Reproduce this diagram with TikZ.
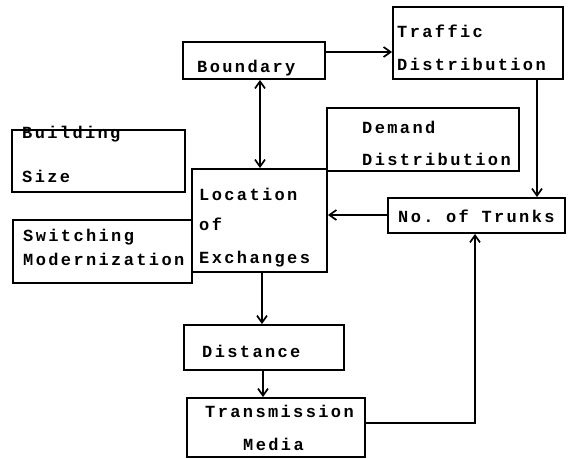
\documentclass[tikz,border=0pt]{standalone}
\usepackage{fontspec}
\setmonofont[LetterSpace=14]{Liberation Mono}
\usetikzlibrary{arrows.meta}
\begin{document}
\begin{tikzpicture}[x=1pt,y=-1pt,
  box/.style={draw,line width=1.9pt,rectangle,inner sep=0pt,anchor=center},
  txt/.style={anchor=base west,inner sep=0pt,font=\ttfamily\bfseries\fontsize{17}{17}\selectfont},
  tip/.tip={Straight Barb[length=7pt,width=10pt,line width=1.7pt]},
  arr/.style={line width=1.9pt,-tip},
  arrb/.style={line width=1.9pt,tip-tip}]
\useasboundingbox[fill=white] (0,0) rectangle (569,458);
% boxes
\node[box,minimum width=170pt,minimum height=72pt] (traffic) at (478,43) {};
\node[box,minimum width=142pt,minimum height=37pt] (bnd) at (254,60.5) {};
\node[box,minimum width=192pt,minimum height=63pt] (demand) at (423,139.5) {};
\node[box,minimum width=173pt,minimum height=62pt] (building) at (98.5,161) {};
\node[box,minimum width=135pt,minimum height=103pt] (loc) at (259.5,220.5) {};
\node[box,minimum width=179pt,minimum height=63pt] (switch) at (102.5,251.5) {};
\node[box,minimum width=177pt,minimum height=35pt] (trunks) at (476.5,215.5) {};
\node[box,minimum width=160pt,minimum height=45pt] (dist) at (264,347.5) {};
\node[box,minimum width=178pt,minimum height=59pt] (trans) at (276,427.5) {};
% texts
\node[txt] (tTr1) at (397,37) {Traffic};
\node[txt] (tTr2) at (397,70) {Distribution};
\node[txt] (tBnd) at (197,72) {Boundary};
\node[txt] (tDe1) at (362,133) {Demand};
\node[txt] (tDe2) at (362,165) {Distribution};
\node[txt] (tBu1) at (22,138.5) {Building};
\node[txt] (tBu2) at (22,182) {Size};
\node[txt] (tLo1) at (199,200) {Location};
\node[txt] (tLo2) at (199,230) {of};
\node[txt] (tLo3) at (199,263) {Exchanges};
\node[txt] (tSw1) at (23,241) {Switching};
\node[txt] (tSw2) at (23,265) {Modernization};
\node[txt] (tTk) at (398,222) {No. of Trunks};
\node[txt] (tDi) at (202,357) {Distance};
\node[txt] (tTm1) at (205,417) {Transmission};
\node[txt] (tTm2) at (243,450) {Media};
% connectors
\draw[arr] ([yshift=8.5pt]bnd.east) -- ([yshift=8.5pt]bnd.east -| traffic.west);
\draw[arrb] ([xshift=0.5pt]loc.north) -- ([xshift=0.5pt]loc.north |- bnd.south);
\draw[arr] ([xshift=59pt]traffic.south) -- ([xshift=59pt]traffic.south |- trunks.north);
\draw[arr] ([yshift=0.5pt]trunks.west) -- ([yshift=0.5pt]trunks.west -| loc.east);
\draw[arr] ([xshift=2.5pt]loc.south) -- ([xshift=2.5pt]loc.south |- dist.north);
\draw[arr] ([xshift=-1pt]dist.south) -- ([xshift=-1pt]dist.south |- trans.north);
\draw[arr] ([yshift=4.5pt]trans.east) -- ([yshift=4.5pt,xshift=-1.5pt]trans.east -| trunks.south) -- ([xshift=-1.5pt]trunks.south);
\end{tikzpicture}
\end{document}
